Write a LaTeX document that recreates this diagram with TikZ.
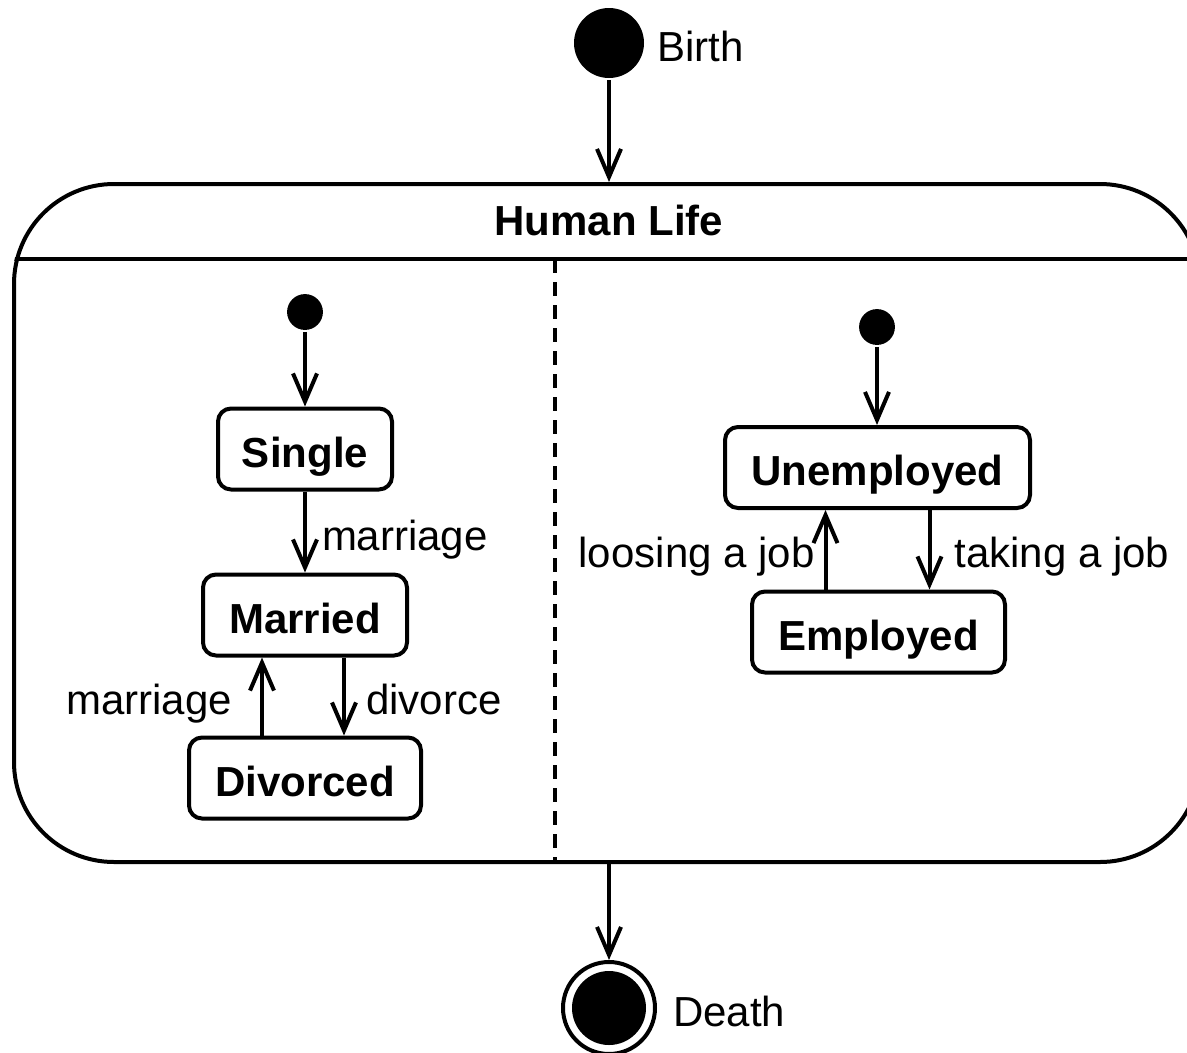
\documentclass[tikz,border=0pt]{standalone}
\usepackage{fontspec}
\setmainfont{Liberation Sans}
\usetikzlibrary{arrows.meta}
\begin{document}
\begin{tikzpicture}[x=1pt,y=-1pt,line width=4pt,
  every node/.style={font=\fontsize{42}{50}\selectfont,text height=36pt,text depth=0pt},
  arr/.style={-{Straight Barb[length=28pt,width=24pt]}},
  state/.style={draw,rounded corners=13pt,minimum height=81pt,inner sep=0pt,
    font=\fontsize{42}{50}\selectfont\bfseries},
  init/.style={circle,fill,inner sep=0pt,minimum size=34pt},
  lbl/.style={inner sep=0pt}]
\useasboundingbox (0,0) rectangle (1187,1053);

% composite state
\node[draw,rounded corners=100pt,minimum width=1186pt,minimum height=678pt,inner sep=0pt]
  (life) at (607,523) {};
\node[font=\fontsize{42}{50}\selectfont\bfseries] (title) at (609,217) {Human Life};
\coordinate (hdr) at (0,259);
\coordinate (div) at (555,0);
\begin{scope}
  \clip[rounded corners=100pt] (life.north west) rectangle (life.south east);
  \draw (life.west |- hdr) -- (life.east |- hdr);
  \draw[dash pattern=on 14pt off 9pt] (div |- hdr) -- (div |- life.south);
\end{scope}

% birth and death
\node[circle,fill,minimum size=70pt,inner sep=0pt] (birth) at (609,43) {};
\node[anchor=west,inner xsep=9pt] (birthlbl) at (birth.east) {Birth};
\node[circle,draw,minimum size=92pt,inner sep=0pt,
  path picture={\fill (path picture bounding box.center) circle (37pt);}]
  (death) at (609,1008) {};
\node[anchor=west,inner xsep=14pt] (deathlbl) at (death.east) {Death};
\draw[arr] (birth) -- (birth |- life.north);
\draw[arr] (life.south -| death) -- (death);

% marital region
\node[init] (i1) at (305,312) {};
\node[state,minimum width=174pt] (single) at (305,449) {Single};
\node[state,minimum width=204pt] (married) at (305,615) {Married};
\node[state,minimum width=232pt] (divorced) at (305,778) {Divorced};
\draw[arr] (i1) -- (single);
\draw[arr] (single) -- node[lbl,right=15pt] (l1) {marriage} (married);
\draw[arr] ([xshift=39pt]married.south) -- node[lbl,right=20pt] (l2) {divorce}
  ([xshift=39pt]married.south |- divorced.north);
\draw[arr] ([xshift=-43pt]married.south |- divorced.north) -- node[lbl,left=28pt] (l3) {marriage}
  ([xshift=-43pt]married.south);

% employment region
\node[init] (i2) at (877,327) {};
\node[state,minimum width=305pt] (unemp) at (877.5,467.5) {Unemployed};
\node[state,minimum width=253pt] (emp) at (878.5,632) {Employed};
\draw[arr] (i2) -- (i2 |- unemp.north);
\draw[arr] ([xshift=52pt]unemp.south) -- node[lbl,right=23pt] (l4) {taking a job}
  ([xshift=52pt]unemp.south |- emp.north);
\draw[arr] ([xshift=-52pt]unemp.south |- emp.north) -- node[lbl,left=9pt] (l5) {loosing a job}
  ([xshift=-52pt]unemp.south);
\end{tikzpicture}
\end{document}
